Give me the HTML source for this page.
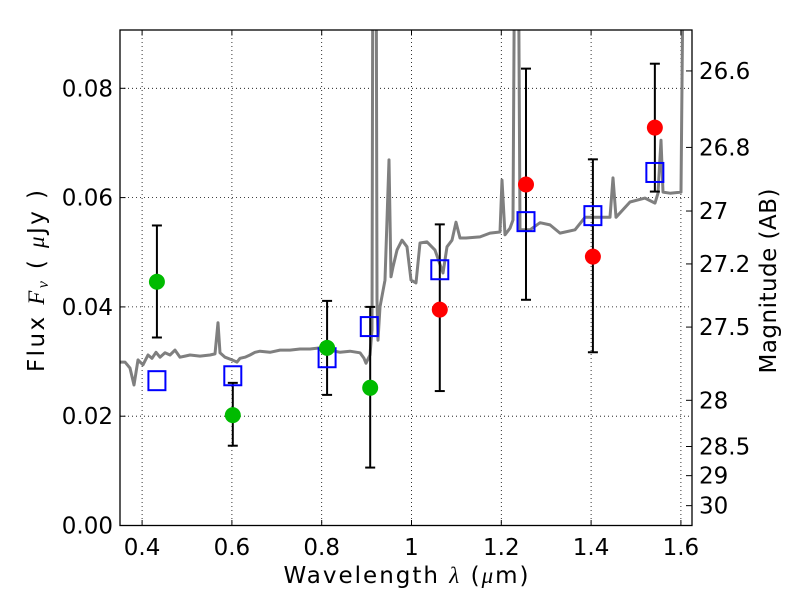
<!DOCTYPE html>
<html><head><meta charset="utf-8"><style>
html,body{margin:0;padding:0;background:#fff;}
svg{display:block;font-family:"DejaVu Sans","Liberation Sans",sans-serif;}
</style></head><body>
<svg id="chart" width="800" height="600" viewBox="0 0 800 600">
<defs><clipPath id="clip"><rect x="120" y="30" width="572" height="495.5"/></clipPath></defs>
<g id="grid"></g>
<g id="spec" clip-path="url(#clip)"></g>
<g id="marks"></g>
<rect x="120" y="30" width="572" height="495.5" fill="none" stroke="#000" stroke-width="1.3"/>
<g id="axes"></g>
<text x="406" y="583" font-size="23" text-anchor="middle" textLength="245" lengthAdjust="spacing">Wavelength  <tspan font-style="italic" font-family="Liberation Serif">λ</tspan> (<tspan font-style="italic" font-family="Liberation Serif">μ</tspan>m)</text>
<text transform="translate(44,281) rotate(-90)" font-size="23" text-anchor="middle" textLength="182" lengthAdjust="spacing">Flux  <tspan font-style="italic" font-family="Liberation Serif">F<tspan font-size="16" dy="4">ν</tspan></tspan><tspan dy="-4">  ( </tspan><tspan font-style="italic" font-family="Liberation Serif">μ</tspan>Jy )</text>
<text transform="translate(776,281) rotate(-90)" font-size="23" text-anchor="middle" textLength="185" lengthAdjust="spacing">Magnitude (AB)</text>
</svg>
<script>
const xTicks=[0.4,0.6,0.8,1,1.2,1.4,1.6];
const xTickLabels=["0.4","0.6","0.8","1","1.2","1.4","1.6"];
const yTicks=[0,0.02,0.04,0.06,0.08];
const yTickLabels=["0.00","0.02","0.04","0.06","0.08"];
const magTicks=[26.6,26.8,27,27.2,27.5,28,28.5,29,30];
const magTickLabels=["26.6","26.8","27","27.2","27.5","28","28.5","29","30"];
const specLam=[0.3507,0.3619,0.3731,0.3820,0.3909,0.4020,0.4131,0.4220,0.4310,0.4399,0.4510,0.4621,0.4733,0.4844,0.4955,0.5067,0.5290,0.5512,0.5624,0.5690,0.5735,0.5846,0.6002,0.6114,0.6180,0.6292,0.6403,0.6514,0.6626,0.6849,0.7071,0.7294,0.7517,0.7739,0.7962,0.8185,0.8408,0.8630,0.8853,0.8942,0.8987,0.9076,0.9121,0.9143,0.9165,0.9210,0.9232,0.9254,0.9298,0.9410,0.9499,0.9543,0.9588,0.9677,0.9788,0.9900,0.9989,1.0100,1.0189,1.0345,1.0523,1.0702,1.0791,1.0902,1.0991,1.1080,1.1214,1.1526,1.1748,1.1971,1.2016,1.2082,1.2194,1.2261,1.2305,1.2372,1.2416,1.2639,1.2862,1.3085,1.3307,1.3641,1.3864,1.4421,1.4488,1.4555,1.4866,1.5200,1.5423,1.5490,1.5557,1.5601,1.5757,1.6002,1.6069,1.6114];
const specFlux=[0.0299,0.0299,0.0288,0.0257,0.0303,0.0294,0.0312,0.0306,0.0317,0.0308,0.0316,0.0312,0.0321,0.0308,0.0310,0.0312,0.0310,0.0312,0.0314,0.0371,0.0316,0.0308,0.0303,0.0299,0.0306,0.0308,0.0312,0.0317,0.0319,0.0317,0.0321,0.0321,0.0323,0.0323,0.0325,0.0321,0.0317,0.0319,0.0316,0.0306,0.0297,0.0312,0.0358,0.12,0.12,0.12,0.0413,0.0339,0.0400,0.0449,0.0669,0.0455,0.0473,0.0504,0.0522,0.0510,0.0449,0.0444,0.0517,0.0519,0.0504,0.0462,0.0510,0.0522,0.0555,0.0526,0.0526,0.0528,0.0535,0.0537,0.0632,0.0532,0.0544,0.0559,0.12,0.12,0.0541,0.0541,0.0554,0.0550,0.0535,0.0541,0.0564,0.0564,0.0636,0.0564,0.0592,0.0599,0.0590,0.0608,0.0705,0.0610,0.0608,0.0610,0.12,0.12];
const greenLam=[0.433,0.602,0.812,0.908];
const greenFlux=[0.0446,0.0202,0.0325,0.0252];
const greenHi=[0.0549,0.0261,0.0411,0.0400];
const greenLo=[0.0344,0.0146,0.0239,0.0106];
const redLam=[1.063,1.255,1.404,1.542];
const redFlux=[0.0395,0.0624,0.0492,0.0728];
const redHi=[0.0551,0.0836,0.0670,0.0845];
const redLo=[0.0246,0.0413,0.0317,0.0611];
const modelLam=[0.433,0.602,0.812,0.906,1.063,1.255,1.404,1.542];
const modelFlux=[0.0265,0.0274,0.0307,0.0364,0.0468,0.0556,0.0567,0.0646];

const NS="http://www.w3.org/2000/svg";
const X=l=>411.5+(l-1)*449;
const Y=f=>525.5-f*5465;
const magToFlux=m=>Math.pow(10,(23.9-m)/2.5);
function mk(tag,attrs,parent){const e=document.createElementNS(NS,tag);for(const k in attrs)e.setAttribute(k,attrs[k]);parent.appendChild(e);return e;}
const grid=document.getElementById('grid'),axes=document.getElementById('axes'),spec=document.getElementById('spec'),marks=document.getElementById('marks');
xTicks.forEach((t,i)=>{
  const gl=mk('line',{x1:X(t),x2:X(t),y1:30,y2:525.5,stroke:'#000','stroke-width':0.8,'stroke-dasharray':'1,3'},grid);
  
  
  mk('line',{x1:X(t),x2:X(t),y1:525.5,y2:520,stroke:'#000'},axes);
  mk('line',{x1:X(t),x2:X(t),y1:30,y2:35.5,stroke:'#000'},axes);
  const tx=mk('text',{x:X(t),y:555,'font-size':23,'text-anchor':'middle'},axes);
  tx.textContent=xTickLabels[i];
  
  
});
yTicks.forEach((t,i)=>{
  if(t>0){const gl=mk('line',{x1:120,x2:692,y1:Y(t),y2:Y(t),stroke:'#000','stroke-width':0.8,'stroke-dasharray':'1,3'},grid);
  
  }
  mk('line',{x1:120,x2:125.5,y1:Y(t),y2:Y(t),stroke:'#000'},axes);
  const tx=mk('text',{x:113,y:Y(t)+8,'font-size':23,'text-anchor':'end'},axes);
  tx.textContent=yTickLabels[i];
  
  
});
magTicks.forEach((m,i)=>{
  const y=Y(magToFlux(m));
  mk('line',{x1:692,x2:686,y1:y,y2:y,stroke:'#000'},axes);
  const tx=mk('text',{x:699,y:y+8,'font-size':23},axes);
  tx.textContent=magTickLabels[i];
  
  
});
const pts=specLam.map((l,i)=>X(l).toFixed(1)+','+Y(specFlux[i]).toFixed(1)).join(' ');
const pl=mk('polyline',{points:pts,fill:'none',stroke:'#7f7f7f','stroke-width':3,'stroke-linejoin':'round'},spec);


function errbar(l,lo,hi){
  const x=X(l);
  mk('line',{x1:x,x2:x,y1:Y(lo),y2:Y(hi),stroke:'#000','stroke-width':2},marks);
  mk('line',{x1:x-5,x2:x+5,y1:Y(lo),y2:Y(lo),stroke:'#000','stroke-width':2},marks);
  mk('line',{x1:x-5,x2:x+5,y1:Y(hi),y2:Y(hi),stroke:'#000','stroke-width':2},marks);
}
greenLam.forEach((l,i)=>errbar(l,greenLo[i],greenHi[i]));
redLam.forEach((l,i)=>errbar(l,redLo[i],redHi[i]));
modelLam.forEach((l,i)=>{
  const r=mk('rect',{x:X(l)-8.5,y:Y(modelFlux[i])-9.5,width:17,height:19,fill:'none',stroke:'#0000ff','stroke-width':2},marks);
  
  
});
greenLam.forEach((l,i)=>{
  const c=mk('circle',{cx:X(l),cy:Y(greenFlux[i]),r:8,fill:'#00bb00'},marks);
  
  
});
redLam.forEach((l,i)=>{
  const c=mk('circle',{cx:X(l),cy:Y(redFlux[i]),r:8,fill:'#ff0000'},marks);
  
  
});
</script>
</body></html>
